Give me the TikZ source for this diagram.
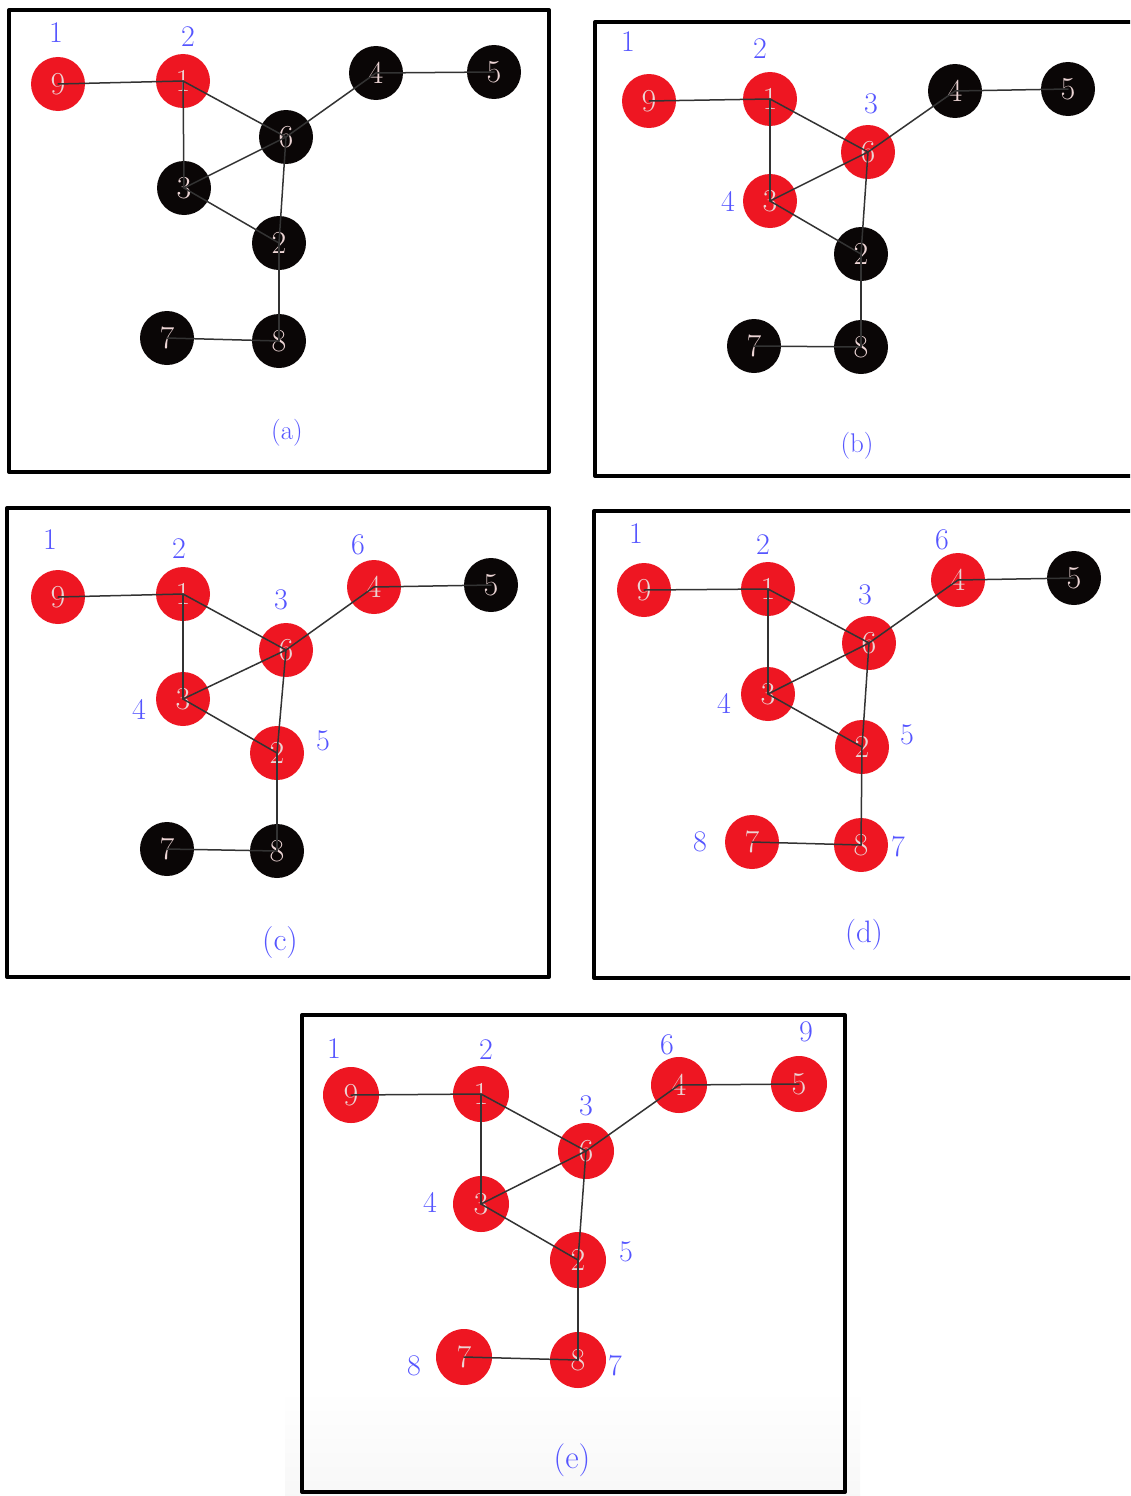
\documentclass[tikz,border=0pt]{standalone}
\definecolor{nodered}{RGB}{238,22,34}
\definecolor{nodeblk}{RGB}{10,6,6}
\definecolor{nodetext}{RGB}{236,212,212}
\definecolor{lblblue}{RGB}{85,85,255}
\tikzset{
	vtx/.style={circle, minimum size=54pt, inner sep=0pt, font=\fontsize{32}{32}\selectfont},
	rednode/.style={vtx, fill=nodered, text=nodetext},
	blknode/.style={vtx, fill=nodeblk, text=nodetext},
	edge/.style={line width=1.5pt, draw=black!80},
	lbl/.style={text=lblblue, inner sep=0pt, font=\fontsize{30}{30}\selectfont},
	capt/.style={text=lblblue, inner sep=0pt},
	panel/.style={line width=4pt, draw=black}
}
\begin{document}
\begin{tikzpicture}[x=1pt, y=-1pt, line cap=round, line join=round]
	% Khung tranh
	\useasboundingbox (0,0) rectangle (1130,1496);
	\clip (0,0) rectangle (1130,1496);
	\fill[white] (0,0) rectangle (1130,1496);
	\shade[top color=white, bottom color=black!3] (285,1390) rectangle (860,1496);
	
	% Khung 5 hình
	\draw[panel] (9,10) rectangle (549,472);
	\draw[panel] (595,22) rectangle (1145,476);
	\draw[panel] (7,508) rectangle (549,977);
	\draw[panel] (594,511) rectangle (1145,978);
	\draw[panel] (302,1015) rectangle (845,1492);
	
	% Hình (a)
	\foreach \n/\x/\y/\s in {9/58/84/rednode, 1/183/81/rednode, 6/286/137/blknode, 4/376/73/blknode, 5/494/72/blknode,
		3/184/188/blknode, 2/279/243/blknode, 7/167/338/blknode, 8/279/341/blknode} {
		\node[\s] (a\n) at (\x,\y) {\n};
	}
	\foreach \t/\x/\y in {1/56/33, 2/188/37} {
		\node[lbl] (aL\t) at (\x,\y) {\t};
	}
	\node[capt, font=\fontsize{27}{27}\selectfont] (acap) at (287,433) {(a)};
	
	% Hình (b)
	\foreach \n/\x/\y/\s in {9/649/101/rednode, 1/770/99/rednode, 6/868/152/rednode, 4/955/91/blknode, 5/1068/89/blknode,
		3/770/201/rednode, 2/861/254/blknode, 7/754/346/blknode, 8/861/347/blknode} {
		\node[\s] (b\n) at (\x,\y) {\n};
	}
	\foreach \t/\x/\y in {1/628/42, 2/760/49, 3/871/104, 4/728/201} {
		\node[lbl] (bL\t) at (\x,\y) {\t};
	}
	\node[capt, font=\fontsize{27}{27}\selectfont] (bcap) at (857,446) {(b)};
	
	% Hình (c)
	\foreach \n/\x/\y/\s in {9/58/597/rednode, 1/183/594/rednode, 6/286/650/rednode, 4/374/587/rednode, 5/491/585/blknode,
		3/183/699/rednode, 2/277/753/rednode, 7/167/849/blknode, 8/277/851/blknode} {
		\node[\s] (c\n) at (\x,\y) {\n};
	}
	\foreach \t/\x/\y in {1/50/540, 2/179/549, 3/281/600, 6/358/545, 4/139/709, 5/323/741} {
		\node[lbl] (cL\t) at (\x,\y) {\t};
	}
	\node[capt, font=\fontsize{32}{32}\selectfont] (ccap) at (280,943) {(c)};
	
	% Hình (d)
	\foreach \n/\x/\y/\s in {9/644/590/rednode, 1/768/589/rednode, 6/869/643/rednode, 4/958/580/rednode, 5/1074/578/blknode,
		3/768/694/rednode, 2/862/747/rednode, 7/752/842/rednode, 8/861/845/rednode} {
		\node[\s] (d\n) at (\x,\y) {\n};
	}
	\foreach \t/\x/\y in {1/636/534, 2/763/545, 3/865/595, 6/942/540, 4/724/703, 5/907/735, 8/700/842, 7/898/847} {
		\node[lbl] (dL\t) at (\x,\y) {\t};
	}
	\node[capt, font=\fontsize{31}{31}\selectfont] (dcap) at (864,935) {(d)};
	
	% Hình (e)
	\foreach \n/\x/\y in {9/351/1095, 1/481/1094, 6/586/1151, 4/679/1085, 5/799/1084,
		3/481/1204, 2/578/1260, 7/464/1357, 8/578/1360} {
		\node[rednode, minimum size=56pt] (e\n) at (\x,\y) {\n};
	}
	\foreach \t/\x/\y in {1/334/1049, 2/486/1050, 3/586/1106, 6/667/1045, 9/806/1032, 4/430/1202, 5/626/1252, 8/414/1366, 7/615/1366} {
		\node[lbl] (eL\t) at (\x,\y) {\t};
	}
	\node[capt, font=\fontsize{33}{33}\selectfont] (ecap) at (572,1460) {(e)};
	
	% Các cạnh (giống nhau ở cả 5 hình)
	\foreach \p in {a,b,c,d,e} {
		\foreach \u/\v in {9/1, 1/6, 1/3, 6/4, 4/5, 6/3, 6/2, 3/2, 2/8, 7/8} {
			\draw[edge] (\p\u.center) -- (\p\v.center);
		}
	}
\end{tikzpicture}
\end{document}
